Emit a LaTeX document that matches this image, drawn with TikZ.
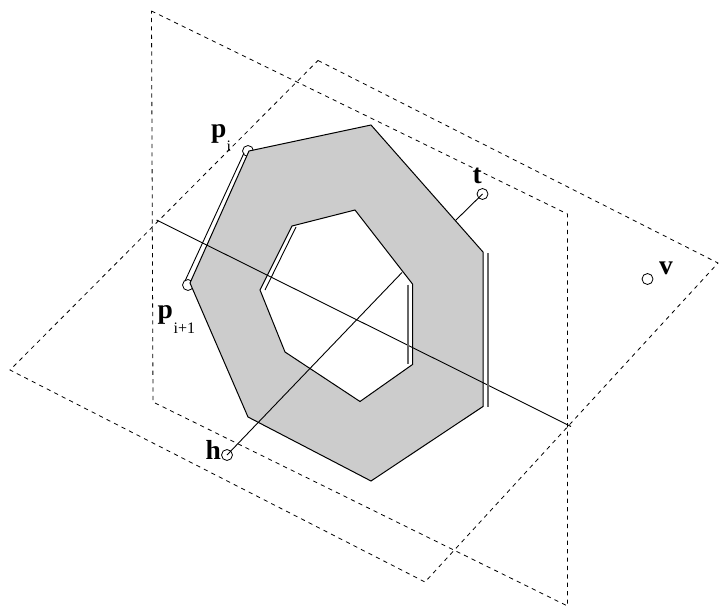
\documentclass[tikz,border=0pt]{standalone}
\usepackage{fontspec}
\setmainfont{Liberation Serif}
\begin{document}
\begin{tikzpicture}[
  x=1pt, y=-1pt,
  plane/.style={draw=black, line width=0.8pt, dash pattern=on 4.2pt off 4.2pt, line join=miter},
  ring/.style={circle, draw=black, fill=white, line width=0.8pt, minimum size=11pt, inner sep=0pt},
  hull/.style={draw=black, fill=black!20, line width=1pt, even odd rule, line join=miter},
  ray/.style={draw=black, line width=0.9pt},
  offs/.style={draw=black, line width=0.9pt},
  offsg/.style={draw=black!60, line width=1.1pt},
  lbl/.style={font=\fontsize{27.5}{27.5}\selectfont\bfseries, inner sep=0pt, anchor=base west},
  sublbl/.style={font=\fontsize{16}{16}\selectfont, inner sep=0pt, anchor=base west}
]
  \useasboundingbox (0,0) rectangle (719,607);

  \draw[plane] (151.5,11) -- (567.5,214) -- (567.5,606) -- (153,402) -- cycle;
  \draw[plane] (318,60.5) -- (718,263) -- (425,582) -- (10,370) -- cycle;

  \node[ring] (pi) at (248,151) {};
  \node[ring] (pj) at (188,285) {};
  \node[ring] (t) at (482.5,194) {};
  \node[ring] (v) at (647.5,279) {};
  \node[ring] (h) at (227,455) {};

  \draw[hull] (249,151) -- (371,125) -- (483,252) -- (483,406.5) -- (371,481)
    -- (248,417) -- (190,283) -- cycle
    (292,226) -- (355,210) -- (412.5,284) -- (412.5,364.5) -- (360,401.5)
    -- (285,352) -- (260,290) -- cycle;

  \coordinate (tfoot) at (455.5,220.5);
  \coordinate (htip) at (402,272.5);
  \coordinate (rayA) at (156.5,220);
  \coordinate (rayB) at (571,426.5);
  \draw[ray] (t.center) -- (tfoot);
  \draw[ray] (h.center) -- (htip);
  \draw[ray] (rayA) -- (rayB);

  \coordinate (outA) at (244,153);
  \coordinate (outB) at (185,281);
  \coordinate (holeA) at (296,227);
  \coordinate (holeB) at (265,290);
  \coordinate (rimA) at (488,253);
  \coordinate (rimB) at (488,407);
  \coordinate (innerA) at (408,284.5);
  \coordinate (innerB) at (408,364);
  \draw[offs] (outA) -- (outB);
  \draw[offs] (holeA) -- (holeB);
  \draw[offsg] (rimA) -- (rimB);
  \draw[offsg] (innerA) -- (innerB);

  \node[lbl] (lpi) at (211,137.5) {p};
  \node[sublbl] (spi) at (226.5,151.5) {i};
  \node[lbl] (lpj) at (157.5,318) {p};
  \node[sublbl] (spj) at (173.5,333) {i+1};
  \node[lbl] (lt) at (472.5,183) {t};
  \node[lbl] (lv) at (659,274.5) {v};
  \node[lbl] (lh) at (205.5,459.5) {h};
\end{tikzpicture}
\end{document}
